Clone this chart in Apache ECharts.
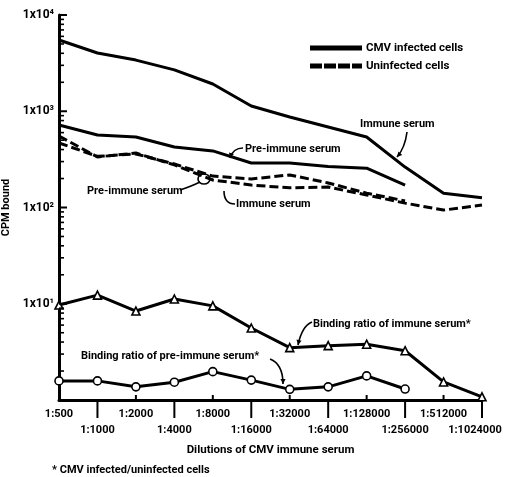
<!DOCTYPE html>
<html>
<head>
<meta charset="utf-8">
<script src="https://cdn.jsdelivr.net/npm/echarts@6/dist/echarts.min.js"></script>
<style>html,body{margin:0;padding:0;background:#fff}#c{width:505px;height:477px}</style>
</head>
<body>
<div id="c"></div>
<script>
const categories = ['1:500','1:1000','1:2000','1:4000','1:8000','1:16000','1:32000','1:64000','1:128000','1:256000','1:512000','1:1024000'];
const infectedImmune = [5500,4030,3400,2690,1920,1135,871,686,540,263,141,126];
const infectedPre = [720,566,540,425,387,290,290,266,256,171];
const uninfImmune = [553,335,368,277,193,171,160,163,135,111,94,106];
const uninfPre = [468,340,360,283,212,198,218,180,141,117];
const ratioImmune = [9.7,12.3,8.4,11.2,9.5,5.6,3.5,3.67,3.8,3.25,1.54,1.08];
const ratioPre = [1.58,1.58,1.37,1.53,1.97,1.61,1.29,1.37,1.78,1.30];
const yMajor = [1,10,100,1000,10000];
const yLabels = ['', '1x10\u00b9', '1x10\u00b2', '1x10\u00b3', '1x10\u2074'];
const yMinor = [2,3,4,5,6,7,8,9,20,30,40,50,60,70,80,90,200,300,400,500,600,700,800,900,2000,3000,4000,5000,6000,7000,8000,9000];

const FONT = 'Roboto';
const txt = {fontFamily: FONT, fontWeight: 'bold', fontSize: 11, color: '#000'};
const chart = echarts.init(document.getElementById('c'));

function lineSeries(name, data, dashed, symbol) {
  return {
    name: name, type: 'line', data: data, xAxisIndex: 0, yAxisIndex: 0,
    symbol: symbol || 'none', symbolSize: 8, showSymbol: !!symbol,
    itemStyle: {color: '#fff', borderColor: '#000', borderWidth: 1.6},
    lineStyle: {color: '#000', width: 3, type: dashed ? [9, 4] : 'solid'},
    emphasis: {disabled: true}, animation: false
  };
}

chart.setOption({
  animation: false,
  grid: {left: 59, right: 23, top: 15, bottom: 77, outerBoundsMode: 'none'},
  legend: {
    data: [
      {name: 'CMV infected cells', icon: 'path://M0,0H50V3H0Z'},
      {name: 'Uninfected cells', icon: 'path://M0,0H10V3H0Z M14,0H24V3H14Z M28,0H38V3H28Z M42,0H50V3H42Z'}
    ],
    orient: 'vertical', left: 305, top: 37, itemWidth: 50, itemHeight: 3, itemGap: 6,
    itemStyle: {color: '#000'},
    textStyle: Object.assign({}, txt, {fontSize: 11.5}), selectedMode: false
  },
  xAxis: {
    type: 'category', data: categories, boundaryGap: false, position: 'bottom',
    axisLine: {show: true, lineStyle: {color: '#000', width: 3}},
    axisTick: {show: false},
    axisLabel: {
      show: true, interval: 0, margin: 6, lineHeight: 16, fontFamily: FONT, fontWeight: 'bold', fontSize: 11, color: '#000',
      formatter: (v, i) => i === categories.length - 1 ? '\n{e|' + v + '}' : (i % 2 ? '\n' + v : v),
      rich: {e: {fontFamily: FONT, fontWeight: 'bold', fontSize: 11, color: '#000', padding: [0, 14, 0, 0], lineHeight: 16}}
    },
    name: 'Dilutions of CMV immune serum', nameLocation: 'middle', nameGap: 44,
    nameTextStyle: Object.assign({}, txt, {fontSize: 11.5})
  },
  yAxis: {
    type: 'log', min: 1, max: 10000, position: 'left',
    axisLine: {show: true, lineStyle: {color: '#000', width: 3}},
    axisTick: {show: false},
    axisLabel: {
      show: true, customValues: yMajor, margin: 5, fontFamily: FONT, fontWeight: 'bold', fontSize: 12, color: '#000',
      formatter: (v) => yLabels[yMajor.indexOf(Math.round(v))] || ''
    },
    splitLine: {show: false},
    name: 'CPM bound', nameLocation: 'middle', nameGap: 32, nameRotate: 90,
    nameTextStyle: Object.assign({}, txt, {fontSize: 11})
  },
  series: [
    lineSeries('CMV infected cells', infectedImmune, false),
    lineSeries('CMV infected cells', infectedPre, false),
    lineSeries('Uninfected cells', uninfImmune, true),
    lineSeries('Uninfected cells', uninfPre, true),
    lineSeries('Binding ratio of immune serum*', ratioImmune, false, 'triangle'),
    lineSeries('Binding ratio of pre-immune serum*', ratioPre, false, 'circle')
  ]
});

function seg(x0, y0, x1, y1, w) {
  return {type: 'line', shape: {x1: x0, y1: y0, x2: x1, y2: y1}, style: {stroke: '#000', lineWidth: w}, silent: true, z: 10};
}
function arrow(x0, y0, cx, cy, x1, y1, head) {
  const els = [{
    type: 'bezierCurve', shape: {x1: x0, y1: y0, cpx1: cx, cpy1: cy, x2: x1, y2: y1},
    style: {stroke: '#000', lineWidth: 1.6, fill: null}, silent: true
  }];
  if (head !== false) {
    const dx = x1 - cx, dy = y1 - cy, Ln = Math.hypot(dx, dy) || 1;
    const ux = dx / Ln, uy = dy / Ln, s = 5, w = 2.6;
    els.push({type: 'polygon', shape: {points: [[x1, y1], [x1 - ux * s - uy * w, y1 - uy * s + ux * w], [x1 - ux * s + uy * w, y1 - uy * s - ux * w]]},
      style: {fill: '#000'}, silent: true});
  }
  return els;
}
function label(x, y, t) {
  return {type: 'text', x: x, y: y, style: {text: t, verticalAlign: 'middle', align: 'left', font: 'bold 11px ' + FONT, fill: '#000'}, silent: true};
}
const g = [];
// axis ticks placed through the chart's own scales
const axisX = chart.convertToPixel({xAxisIndex: 0}, 0);
const axisY = chart.convertToPixel({yAxisIndex: 0}, 1);
categories.forEach((c, i) => {
  const x = chart.convertToPixel({xAxisIndex: 0}, i);
  if (i % 2 === 1) g.push(seg(x, axisY, x, axisY + 18, 2));
  else if (i > 0) g.push(seg(x, axisY, x, axisY - 5, 2));
});
yMajor.forEach((v) => { if (v > 1) { const y = chart.convertToPixel({yAxisIndex: 0}, v); g.push(seg(axisX, y, axisX + 8, y, 2)); } });
yMinor.forEach((v) => { const y = chart.convertToPixel({yAxisIndex: 0}, v); g.push(seg(axisX, y, axisX + 5, y, 1.6)); });
// annotations
g.push(label(360, 124, 'Immune serum'));
g.push(...arrow(407, 132, 405, 148, 397, 157));
g.push(label(245, 149, 'Pre-immune serum'));
g.push(...arrow(243, 148, 233, 148, 230, 158));
g.push(label(87, 191, 'Pre-immune serum'));
g.push(...arrow(180, 190, 192, 186, 200, 182, false));
g.push({type: 'ellipse', shape: {cx: 204, cy: 179, rx: 6, ry: 5}, style: {stroke: '#000', lineWidth: 1.6, fill: null}, silent: true});
g.push(label(236, 204, 'Immune serum'));
g.push(...arrow(235, 204, 224, 204, 224, 191, false));
g.push(label(313, 324, 'Binding ratio of immune serum*'));
g.push(...arrow(312, 322, 302, 326, 298, 345));
g.push(label(81, 356, 'Binding ratio of pre-immune serum*'));
g.push(...arrow(270, 359, 283, 364, 283, 384));
g.push(label(52, 470, '* CMV infected/uninfected cells'));
chart.setOption({graphic: g});
</script>
</body>
</html>
